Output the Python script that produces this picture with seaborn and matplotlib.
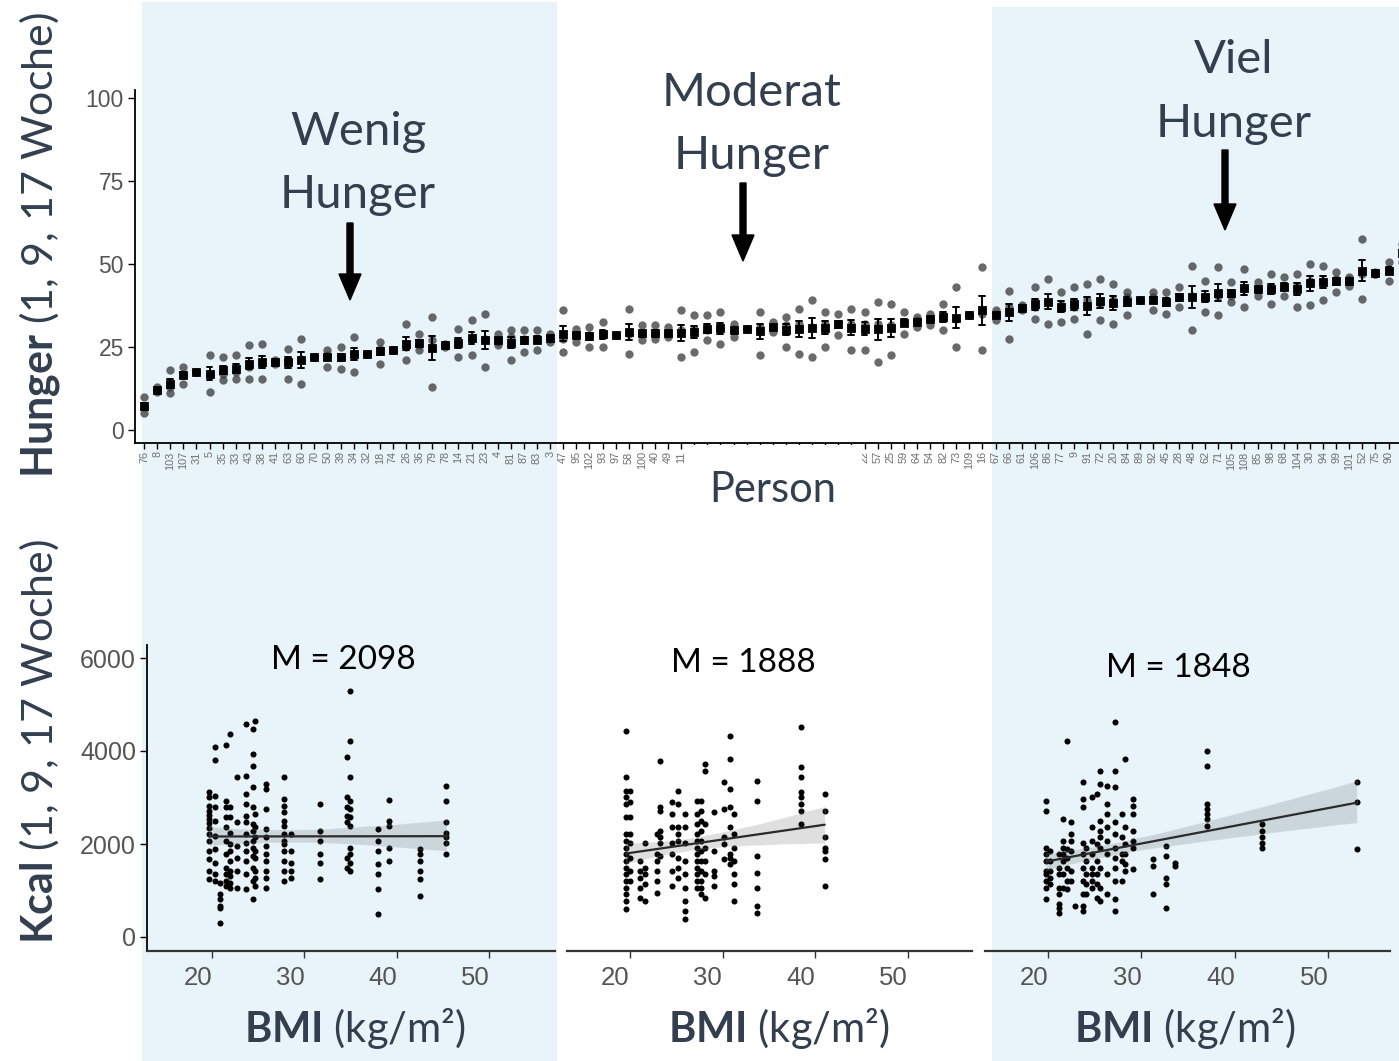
import matplotlib
matplotlib.use("Agg")
import matplotlib.pyplot as plt
import numpy as np
import pandas as pd
import seaborn as sns
from matplotlib.patches import Rectangle, FancyArrow
from matplotlib.transforms import ScaledTranslation

# ------------------------------------------------------------------ data
person_ids = [
    "76", "8", "103", "107", "31", "5", "35", "33", "43", "38", "41", "63", "60", "70", "50", "39",
    "34", "32", "18", "74", "26", "36", "79", "78", "14", "21", "23", "4", "81", "87", "83", "3",
    "47", "95", "102", "93", "97", "58", "100", "40", "49", "11", "12", "13", "15", "17", "19", "27",
    "29", "37", "42", "44", "46", "51", "53", "22", "57", "25", "59", "64", "54", "82", "73", "109", "16",
    "67", "66", "61", "106", "86", "77", "9", "91", "72", "20", "84", "89", "92", "45", "28", "48",
    "62", "71", "105", "108", "85", "98", "68", "104", "30", "94", "99", "101", "52", "75", "90", "6",
]
hunger_week1 = [
    10, 13, 18, 19, 17.5, 22.5, 22, 22.5, 25.5, 26, 21, 24.5, 27.5, 22, 24, 25,
    28, 23, 26.5, 24, 32, 29, 34, 26, 30.5, 33, 35, 29, 30, 30, 30, 29,
    36, 30.5, 31, 32.5, 28.5, 36.5, 31.5, 31.5, 31, 36, 34.5, 34.5, 35.5, 32, 30.5, 35.5,
    32.5, 34, 36.5, 39, 35.5, 35, 36.5, 35.5, 38.5, 38, 35.5, 34, 35, 38, 43, 34.5, 49,
    36, 42, 37.5, 43, 45.5, 41.5, 43, 44, 45.5, 44, 41.5, 39, 41.5, 41.5, 43, 49.5,
    45, 49, 44.5, 48.5, 44.5, 47, 46, 47, 50, 49.5, 47.5, 46, 57.5, 47.5, 50.5, 56,
]
hunger_week9 = [
    7, 12, 13, 17, 17.5, 17, 17, 17.5, 19, 20, 20.5, 21, 21.5, 22, 22.5, 22,
    23, 23, 24.5, 24, 25, 25.5, 27, 25.5, 26, 27.5, 27.5, 26.5, 28, 27.5, 27.5, 27.5,
    27.5, 28.5, 28.5, 29, 28.5, 29, 29, 29, 29, 30, 30.5, 30, 30.5, 30.5, 30.5, 31,
    31, 31.5, 32, 31, 32, 32, 32, 32, 32, 31.5, 32.5, 33, 33.5, 34, 33.5, 34.5, 35,
    35, 37, 37, 37, 38.5, 37.5, 37, 39, 38, 39, 40, 39, 40, 39, 40, 40.5,
    40, 40.5, 40.5, 42.5, 42.5, 42.5, 43, 43.5, 45, 45, 45.5, 45.5, 47, 47, 48.5, 53,
]
hunger_week17 = [
    5, 11.5, 11, 14, 17.5, 11.5, 15, 15.5, 15.5, 15.5, 20, 15.5, 14, 22, 19, 18.5,
    17.5, 23, 20, 24, 21, 24, 13, 25, 22, 22.5, 19, 25.5, 21, 23.5, 24, 26.5,
    23.5, 26.5, 25, 25, 28.5, 23, 27, 27.5, 28, 22, 23.5, 27, 26, 28, 30.5, 22.5,
    29.5, 25, 23, 22, 25, 28.5, 24, 24, 20.5, 22.5, 29, 31, 31.5, 30, 25, 34.5, 24,
    33, 27.5, 36, 33.5, 32, 32.5, 33.5, 29, 33, 32, 34.5, 39, 36, 35, 37, 30,
    35.5, 34.5, 38.5, 37, 40.5, 38, 40.5, 37, 37.5, 39, 41.5, 43.5, 39.5, 47, 45, 50.5,
]
hunger_ticks = [0, 25, 50, 75, 100]

# bottom panels: BMI columns and the kcal values measured at each column
left_bmi = [19.7, 20.3, 20.9, 21.5, 22.0, 22.7, 23.7, 24.4, 24.7, 25.8, 27.8, 28.6, 31.7,
            34.6, 35.0, 38.0, 39.2, 42.5, 45.4]
left_kcal = [
    [3109, 3001, 2822, 2714, 2628, 2535, 2441, 2341, 2211, 2068, 1852, 1673, 1422, 1242],
    [4093, 3805, 3037, 2786, 2499, 2176, 1888, 1601, 1350, 1206],
    [1170, 919, 811, 668, 632, 309],
    [4136, 2929, 2786, 2570, 2355, 2068, 1781, 1493, 1350, 1206, 1099],
    [4365, 2786, 2570, 2247, 1996, 1852, 1637, 1422, 1314, 1170, 1063],
    [3432, 2463, 1960, 1709, 1422, 1063],
    [4581, 3468, 3073, 2858, 2606, 2463, 2211, 2032, 1852, 1637, 1350, 1027],
    [4473, 3935, 3683, 3217, 2786, 2427, 2283, 2068, 1924, 1745, 1493, 1206, 811],
    [4653, 2642, 2355, 2140, 1852, 1709, 1422, 1278, 1099],
    [3288, 3181, 2750, 2319, 2140, 1960, 1781, 1637, 1422, 1278, 1063],
    [3432, 2965, 2822, 2678, 2499, 2391, 2211, 2068, 1996, 1852, 1637, 1422, 1206],
    [2211, 1852, 1601, 1422, 1278],
    [2858, 2283, 2068, 1781, 1601, 1242],
    [3863, 3001, 2786, 2606, 2463, 1709, 1493],
    [5299, 4222, 3432, 2929, 2750, 2570, 2391, 1924, 1781, 1601, 1422],
    [2319, 2068, 1852, 1565, 1350, 1027, 488],
    [2944, 2499, 2391, 1924, 1637],
    [1888, 1781, 1637, 1422, 1242, 883],
    [3253, 2929, 2463, 2247, 2140, 2032, 1795],
]
mid_bmi = [19.6, 20.0, 21.1, 21.6, 22.9, 23.2, 24.5, 25.2, 25.9, 27.2, 27.7, 28.1, 29.1,
           30.1, 30.8, 31.2, 33.7, 38.4, 41.0]
mid_kcal = [
    [4437, 3432, 3145, 3001, 2858, 2570, 2211, 2068, 1924, 1781, 1637, 1493, 1350, 1206, 1063, 919, 775, 596],
    [3145, 2894, 2570, 2211, 2012, 1709, 1422, 1206],
    [1637, 1422, 1278, 1063, 847],
    [2032, 1493, 1350, 1135, 775],
    [2211, 1781, 1637, 1422, 1206, 955],
    [3791, 2786, 2714, 2283, 2140, 2012, 1745],
    [2894, 2642, 2355, 2012, 1781, 1422, 1099],
    [3145, 2858, 2355, 2211, 2068, 1709, 1493, 1278],
    [2642, 2355, 2012, 1637, 1350, 1063, 775, 560, 381],
    [2929, 2642, 2427, 2211, 2068, 1924, 1781, 1637, 1493, 1350, 1206, 1063],
    [2929, 2714, 2499, 2283, 2068, 1852, 1637, 1422, 1206, 1063, 919],
    [3719, 3576, 2427, 1924, 1637, 1350, 847],
    [2678, 1852, 1422, 1314, 1099],
    [3324, 2750, 2140, 1996, 1673],
    [4330, 3827, 3181, 2786, 2355, 1781, 1709, 1565],
    [2642, 2211, 1924, 1637, 1350, 1135, 775],
    [3360, 2929, 1745, 1386, 1063, 668, 524],
    [4509, 3662, 3432, 3109, 3001, 2858, 2714, 2427],
    [3073, 2714, 2154, 1924, 1852, 1673, 1099],
]
right_bmi = [19.8, 20.2, 21.2, 21.6, 22.0, 22.5, 22.9, 23.8, 24.1, 24.7, 25.2, 25.6, 26.3,
             27.2, 27.9, 28.2, 29.1, 31.3, 32.7, 33.6, 37.0, 42.9, 53.1]
right_kcal = [
    [2929, 2714, 1924, 1781, 1637, 1422, 1350, 1206, 1063, 811],
    [1852, 1637, 1422, 1278, 1135],
    [1781, 1493, 1350, 1063, 919, 704, 632, 524],
    [2535, 2068, 1924, 1781, 1637, 1350, 1063],
    [4222, 1888, 1709, 1493, 1206, 1027],
    [2463, 2211, 2068, 1852, 1422, 1206],
    [668],
    [3324, 2965, 2786, 2032, 1781, 1493, 1206, 919, 668, 560],
    [1924, 1637, 1350, 1135, 919],
    [3001, 2355, 2068, 1781, 1493, 1350, 1206, 1063],
    [3073, 1996, 1637, 1350, 1135, 847],
    [3576, 3288, 2499, 2283, 2140, 1924, 1493, 1063, 775],
    [3253, 2858, 2642, 2355, 2068, 1781, 1350, 919],
    [4617, 3576, 3217, 2463, 2211, 1924, 1709, 1493, 1206, 811, 560],
    [2642, 2140, 1781, 1637, 1206],
    [3827, 2355, 1996, 1781, 1565, 1422],
    [2965, 2822, 2642, 2283, 2068, 1924, 1458],
    [1673, 1522, 919],
    [1960, 1745, 1278, 1135, 632],
    [1601, 1529],
    [4006, 3683, 2858, 2750, 2642, 2535, 2391],
    [2427, 2283, 2140, 2032, 1924],
    [3324, 2894, 1888],
]
group_means = ["M = 2098", "M = 1888", "M = 1848"]
group_titles = [("Wenig", "Hunger"), ("Moderat", "Hunger"), ("Viel", "Hunger")]
bmi_ticks = [20, 30, 40, 50]
kcal_ticks = [0, 2000, 4000, 6000]

# ------------------------------------------------------------------ frames
top_df = pd.DataFrame({
    "person": person_ids * 3,
    "hunger": hunger_week1 + hunger_week9 + hunger_week17,
})


def kcal_frame(bmis, kcals):
    rows = [(b, k) for b, ks in zip(bmis, kcals) for k in ks]
    return pd.DataFrame(rows, columns=["bmi", "kcal"])


bottom_dfs = [kcal_frame(left_bmi, left_kcal), kcal_frame(mid_bmi, mid_kcal),
              kcal_frame(right_bmi, right_kcal)]

# ------------------------------------------------------------------ style
W, H, DPI = 1399, 1061, 100
sns.set_style("ticks")
plt.rcParams["font.family"] = ["Lato", "DejaVu Sans"]
plt.rcParams["mathtext.fontset"] = "custom"
plt.rcParams["mathtext.rm"] = "Lato"
plt.rcParams["mathtext.bf"] = "Lato:bold"
plt.rcParams["mathtext.it"] = "Lato:italic"

TXT = "#333F4F"
TICK = "#555555"
SHADE = "#E8F4FA"
TICKFONT = "Liberation Sans"

fig = plt.figure(figsize=(W / DPI, H / DPI), dpi=DPI)


def fx(px):
    return px / W


def fy(py):
    return 1 - py / H


def inch(px, py):
    return px / DPI, (H - py) / DPI


# background shading of the "Wenig" and "Viel" groups
fig.add_artist(Rectangle((fx(142), 0), fx(557) - fx(142), fy(2), transform=fig.transFigure,
                         facecolor=SHADE, edgecolor="none", zorder=-10))
fig.add_artist(Rectangle((fx(992), 0), 1 - fx(992), fy(7), transform=fig.transFigure,
                         facecolor=SHADE, edgecolor="none", zorder=-10))

# ------------------------------------------------------------------ top panel
ax = fig.add_axes([fx(135), fy(443), 1 - fx(135), fy(90) - fy(443)])
ax.set_facecolor("none")
sns.stripplot(data=top_df, x="person", y="hunger", order=person_ids, jitter=False,
              color="#383838", alpha=0.75, size=6, linewidth=0, ax=ax, zorder=2)
sns.pointplot(data=top_df, x="person", y="hunger", order=person_ids, errorbar=("se", 0.6),
              capsize=0.45, color="black", linestyle="none", marker="s", markersize=4.5,
              err_kws={"linewidth": 1.4}, ax=ax, zorder=3)
ax.set_xlim((135 - 144) / 13.1, (1399 - 144) / 13.1)
ax.set_ylim(-3.92, 102.4)
ax.set_yticks(hunger_ticks)
ax.set_xlabel("")
ax.set_ylabel("")
sns.despine(ax=ax)
for s in ("left", "bottom"):
    ax.spines[s].set_color("black")
    ax.spines[s].set_linewidth(1.3)
ax.tick_params(axis="x", labelrotation=90, labelsize=7.8, labelcolor="#6e6e6e",
               length=4, width=1, color="black", pad=2, labelfontfamily=TICKFONT)
ax.tick_params(axis="y", labelsize=16.5, labelcolor=TICK, length=5, width=1,
               color="black", pad=3, labelfontfamily=TICKFONT)

# ------------------------------------------------------------------ bottom panels
panels = [(147, 555, 212, 92.3), (567, 972, 630, 92.7), (985, 1390, 1048, 93.3)]
ybot, ytop, y0px, pxper1000 = 951, 645, 937, 46.5
label_offset = [-14, -15, -14]
bottom_axes = []
for i, ((x0, x1, x20, per10), df) in enumerate(zip(panels, bottom_dfs)):
    a = fig.add_axes([fx(x0), fy(ybot), fx(x1) - fx(x0), fy(ytop) - fy(ybot)])
    a.set_facecolor("none")
    sns.regplot(data=df, x="bmi", y="kcal", ax=a, ci=95, seed=0, truncate=True,
                scatter_kws={"s": 19, "color": "black", "linewidths": 0, "alpha": 1},
                line_kws={"color": "#2b2b2b", "linewidth": 1.6})
    a.set_xlim(20 - (x20 - x0) / (per10 / 10), 20 + (x1 - x20) / (per10 / 10))
    a.set_ylim(-(ybot - y0px) / pxper1000 * 1000, (y0px - ytop) / pxper1000 * 1000)
    a.set_xticks(bmi_ticks)
    a.set_xlabel("")
    a.set_ylabel("")
    sns.despine(ax=a)
    a.spines["bottom"].set_color("#333333")
    a.spines["bottom"].set_linewidth(1.6)
    a.tick_params(axis="x", labelsize=18.5, labelcolor=TICK, length=5, width=1,
                  color="#333333", pad=6, labelfontfamily=TICKFONT)
    if i == 0:
        a.set_yticks(kcal_ticks)
        a.spines["left"].set_color("black")
        a.spines["left"].set_linewidth(1.3)
        a.tick_params(axis="y", labelsize=18, labelcolor=TICK, length=5, width=1,
                      color="black", pad=3, labelfontfamily=TICKFONT)
    else:
        a.set_yticks([])
        a.spines["left"].set_visible(False)
    off = ScaledTranslation(label_offset[i] / DPI, 0, fig.dpi_scale_trans)
    for lbl in a.get_xticklabels():
        lbl.set_transform(lbl.get_transform() + off)
    bottom_axes.append(a)

# ------------------------------------------------------------------ texts
# y axis titles
fig.text(*inch(53, 478), r"$\mathbf{Hunger}$ (1, 9, 17 Woche)", transform=fig.dpi_scale_trans,
         rotation=90, rotation_mode="anchor", ha="left", va="baseline", fontsize=31, color=TXT)
fig.text(*inch(53, 944), r"$\mathbf{Kcal}$ (1, 9, 17 Woche)", transform=fig.dpi_scale_trans,
         rotation=90, rotation_mode="anchor", ha="left", va="baseline", fontsize=31, color=TXT)

# x axis titles of the bottom panels
for xc in (355, 779, 1185):
    fig.text(*inch(xc, 1042), r"$\mathbf{BMI}$ (kg/m²)", transform=fig.dpi_scale_trans,
             ha="center", va="baseline", fontsize=30, color=TXT)

# "Person" label over a white patch hiding the tick labels
fig.add_artist(Rectangle((fx(688), fy(515)), fx(862) - fx(688), fy(445) - fy(515),
                         transform=fig.transFigure, facecolor="white", edgecolor="none", zorder=5))
fig.text(*inch(773, 502), "Person", transform=fig.dpi_scale_trans, ha="center",
         va="baseline", fontsize=30, color=TXT, zorder=6)

# group titles with arrows
title_pos = [(358, 145, 208), (752, 106, 169), (1234, 73, 137)]
for (l1, l2), (xc, b1, b2) in zip(group_titles, title_pos):
    fig.text(*inch(xc, b1), l1, transform=fig.dpi_scale_trans, ha="center", va="baseline",
             fontsize=34, color=TXT)
    fig.text(*inch(xc, b2), l2, transform=fig.dpi_scale_trans, ha="center", va="baseline",
             fontsize=34, color=TXT)

for xa, ya0, ya1 in [(350, 223, 300), (743, 183, 261), (1225, 150, 230)]:
    sx, sy = inch(xa, ya0)
    fig.add_artist(FancyArrow(sx, sy, 0, -(ya1 - ya0) / DPI, width=6 / DPI, head_width=22 / DPI,
                              head_length=26 / DPI, length_includes_head=True, color="black",
                              transform=fig.dpi_scale_trans, zorder=7))

# group means
for txt, (xc, yb) in zip(group_means, [(343, 669), (743, 672), (1178, 677)]):
    fig.text(*inch(xc, yb), txt, transform=fig.dpi_scale_trans, ha="center", va="baseline",
             fontsize=24, color="black")

fig.savefig("out.png", dpi=DPI)
